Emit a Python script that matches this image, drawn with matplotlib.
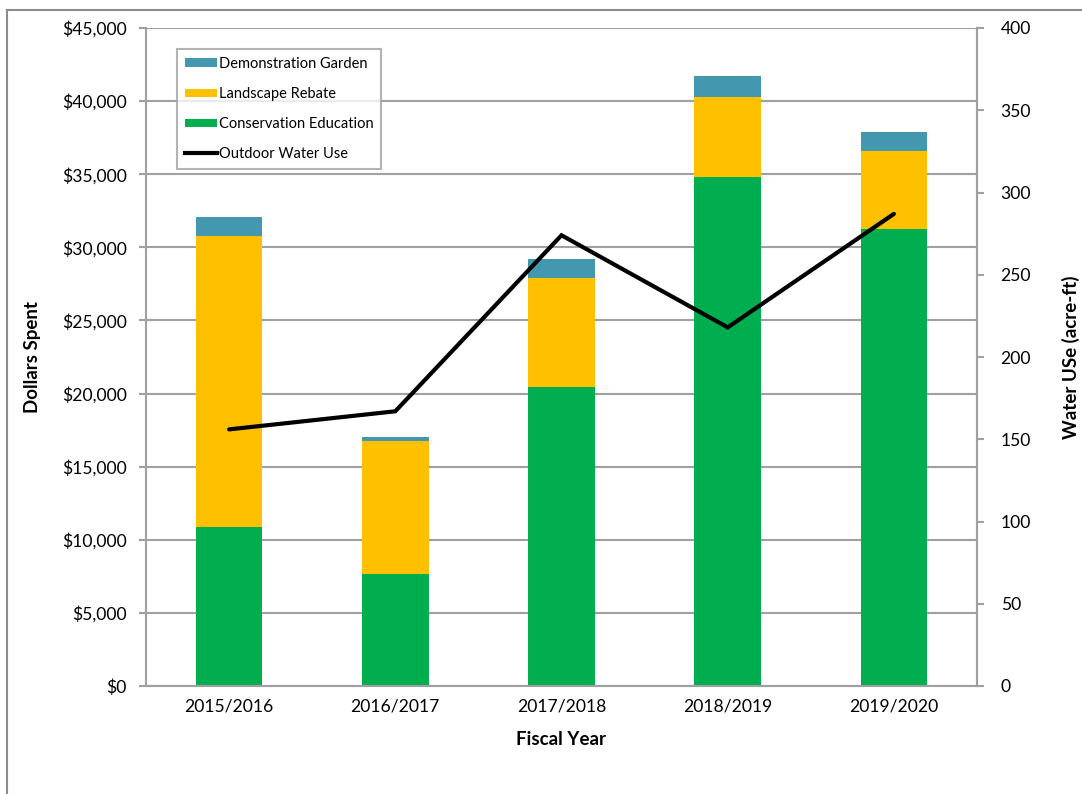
import matplotlib
matplotlib.use("Agg")
import matplotlib.pyplot as plt
from matplotlib.ticker import FuncFormatter, MultipleLocator
from matplotlib.lines import Line2D
from matplotlib.patches import Patch
import numpy as np

years = ["2015/2016", "2016/2017", "2017/2018", "2018/2019", "2019/2020"]
conservation_education = [10900, 7640, 20470, 34830, 31250]
landscape_rebate = [19875, 9115, 7455, 5470, 5360]
demonstration_garden = [1300, 295, 1280, 1420, 1260]
outdoor_water_use = [156, 167, 274, 218, 287]

c_green = "#00AE50"
c_yellow = "#FFC000"
c_blue = "#4397AF"
grey = "#A0A0A0"
fam = ["Lato", "DejaVu Sans"]
plt.rcParams['font.family'] = fam

fig = plt.figure(figsize=(10.82, 7.94), dpi=100)
ax = fig.add_axes([146/1082, 1-686/794, 831/1082, 658/794])

x = np.arange(len(years))
w = 0.4
ce = np.array(conservation_education)
lr = np.array(landscape_rebate)
dg = np.array(demonstration_garden)
ax.bar(x, ce, w, color=c_green, zorder=2)
ax.bar(x, lr, w, bottom=ce, color=c_yellow, zorder=2)
ax.bar(x, dg, w, bottom=ce+lr, color=c_blue, zorder=2)

ax.set_ylim(0, 45000)
ax.set_xlim(-0.5, 4.5)
ax.yaxis.set_major_locator(MultipleLocator(5000))
ax.yaxis.set_major_formatter(FuncFormatter(lambda v, p: "${:,.0f}".format(v)))
ax.grid(axis='y', color=grey, linewidth=1.5, zorder=0)
ax.set_axisbelow(True)
ax.set_xticks(x)
ax.set_xticklabels(years)
ax.spines["top"].set_visible(False)
for s in ["left", "right", "bottom"]:
    ax.spines[s].set_color(grey)
    ax.spines[s].set_linewidth(1.5)
ax.tick_params(axis='y', direction='out', length=5, color=grey, width=1.5, labelsize=12.6, pad=9)
ax.tick_params(axis='x', length=0, labelsize=12.6, pad=9)
ax.set_ylabel("Dollars Spent", fontsize=13.5, fontweight='bold', labelpad=15)
ax.set_xlabel("Fiscal Year", fontsize=13.5, fontweight='bold', labelpad=12)

ax2 = ax.twinx()
ax2.plot(x, outdoor_water_use, color="black", linewidth=3, zorder=5, solid_capstyle='round', solid_joinstyle='miter')
ax2.set_ylim(0, 400)
ax2.yaxis.set_major_locator(MultipleLocator(50))
for s in ["top", "left", "bottom"]:
    ax2.spines[s].set_visible(False)
ax2.spines["right"].set_color(grey)
ax2.spines["right"].set_linewidth(1.5)
ax2.tick_params(axis='y', direction='out', length=5, color=grey, width=1.5, labelsize=12.6, pad=12)
ax2.set_ylabel("Water USe (acre-ft)", fontsize=13.5, fontweight='bold', labelpad=22)

handles = [Patch(facecolor=c_blue, edgecolor='none'),
           Patch(facecolor=c_yellow, edgecolor='none'),
           Patch(facecolor=c_green, edgecolor='none'),
           Line2D([0], [0], color='black', linewidth=3)]
labels = ["Demonstration Garden", "Landscape Rebate", "Conservation Education", "Outdoor Water Use"]
leg = ax2.legend(handles, labels, loc='upper left', bbox_to_anchor=((177-146)/831, (686-49)/658),
                 fontsize=10.5, frameon=True, fancybox=False, edgecolor=grey,
                 handlelength=2.2, handleheight=0.55, handletextpad=0.1, labelspacing=1.1,
                 borderpad=0.55, borderaxespad=0)
leg.get_frame().set_linewidth(1.5)

# outer chart frame (partially cropped)
fig.add_artist(Line2D([7/1082, 7/1082], [0, 1-10/794], color="#8C8C8C", linewidth=1.5, transform=fig.transFigure))
fig.add_artist(Line2D([7/1082, 1], [1-10/794, 1-10/794], color="#8C8C8C", linewidth=1.5, transform=fig.transFigure))

fig.savefig("out.png", dpi=100)
